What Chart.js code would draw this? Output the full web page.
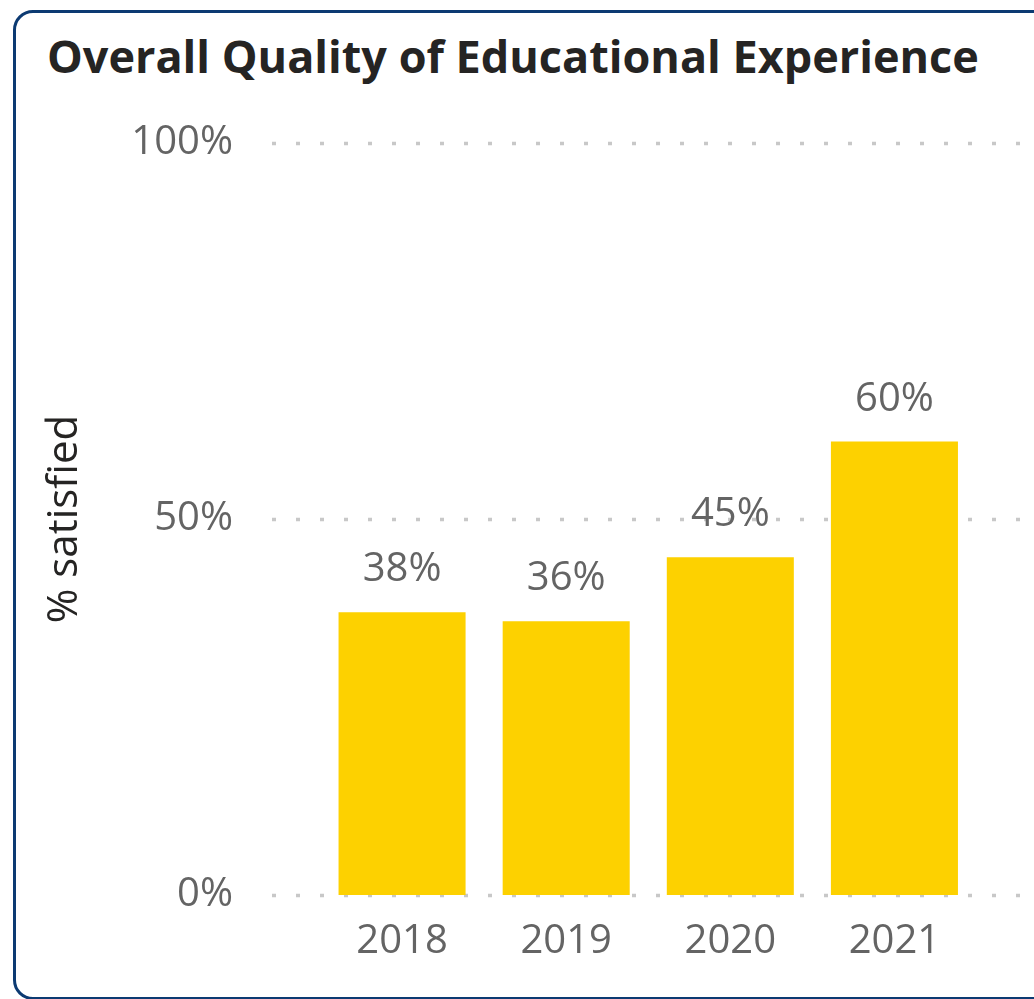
<!DOCTYPE html>
<html>
<head>
<meta charset="utf-8">
<script src="https://cdn.jsdelivr.net/npm/chart.js@4"></script>
<style>
  html, body { margin: 0; padding: 0; background: #fff; overflow: hidden; }
  body { width: 1034px; height: 999px; position: relative; }
  .card {
    position: absolute; left: 13px; top: 10px; width: 1100px; height: 984px;
    border: 3px solid #0C3A72; border-radius: 20px; box-sizing: content-box;
  }
  .title {
    position: absolute; left: 47px; top: 25px; margin: 0;
    font: bold 45px "Open Sans", sans-serif; color: #252423; white-space: nowrap;
  }
  canvas { position: absolute; left: 0; top: 0; }
</style>
</head>
<body>
<div class="card"></div>
<h1 class="title">Overall Quality of Educational Experience</h1>
<canvas id="chart" width="1034" height="999"></canvas>
<script>
// datos del gráfico
const years = ['2018', '2019', '2020', '2021'];
const satisfied = [37.6, 36.4, 44.9, 60.3];
const yTicks = [0, 50, 100];

const FONT = '"Open Sans", sans-serif';
const GREY = '#646464';

// líneas punteadas detrás de las barras
const dottedGrid = {
  id: 'dottedGrid',
  beforeDatasetsDraw(chart) {
    const { ctx } = chart;
    const y = chart.scales.y;
    ctx.save();
    ctx.strokeStyle = '#C8C8C8';
    ctx.lineWidth = 3.5;
    ctx.setLineDash([4, 20]);
    for (const v of yTicks) {
      const py = Math.round(y.getPixelForValue(v)) + 0.5;
      ctx.beginPath();
      ctx.moveTo(272, py);
      ctx.lineTo(chart.width, py);
      ctx.stroke();
    }
    ctx.restore();
  }
};

// etiquetas encima de cada barra
const barLabels = {
  id: 'barLabels',
  afterDatasetsDraw(chart) {
    const { ctx } = chart;
    const meta = chart.getDatasetMeta(0);
    ctx.save();
    ctx.font = '40px ' + FONT;
    ctx.fillStyle = GREY;
    ctx.textAlign = 'center';
    ctx.textBaseline = 'alphabetic';
    meta.data.forEach((bar, i) => {
      ctx.fillText(Math.round(satisfied[i]) + '%', bar.x, bar.y - 31);
    });
    ctx.restore();
  }
};

new Chart(document.getElementById('chart'), {
  type: 'bar',
  data: {
    labels: years,
    datasets: [{
      data: satisfied,
      backgroundColor: '#FDD100',
      barPercentage: 0.774,
      categoryPercentage: 1
    }]
  },
  options: {
    responsive: false,
    animation: false,
    layout: { padding: { top: 143, bottom: 31, left: 0, right: 57.5 } },
    plugins: { legend: { display: false }, tooltip: { enabled: false } },
    scales: {
      x: {
        grid: { display: false },
        border: { display: false },
        ticks: { font: { family: FONT, size: 40 }, color: GREY, padding: 15 },
        afterFit(s) { s.height = 73; }
      },
      y: {
        min: 0, max: 100,
        grid: { display: false },
        border: { display: false },
        afterBuildTicks(s) { s.ticks = yTicks.map(v => ({ value: v })); },
        ticks: {
          font: { family: FONT, size: 40 }, color: GREY, padding: 79,
          callback: v => v + '%'
        },
        title: {
          display: true, text: '% satisfied', color: '#252423',
          font: { family: FONT, size: 42 }, padding: { top: 40 }
        },
        afterFit(s) { s.width = 320; }
      }
    }
  },
  plugins: [dottedGrid, barLabels]
});
</script>
</body>
</html>
